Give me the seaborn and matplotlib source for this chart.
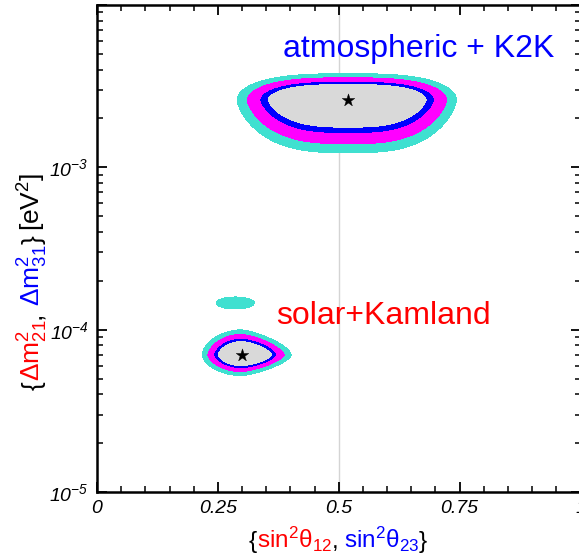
import numpy as np
import matplotlib
matplotlib.use("Agg")
import matplotlib.pyplot as plt
import matplotlib.ticker as mticker
from matplotlib.transforms import IdentityTransform
import seaborn as sns

# best fit points: (sin^2 theta, delta m^2 [eV^2])
best_x = [0.30, 0.52]
best_y = [7.0e-5, 2.6e-3]
region_names = ["solar+Kamland", "atmospheric + K2K"]
region_colors = ["#ff0000", "#0000ff"]
name_x = [0.371, 0.384]
name_y = [1.09e-4, 4.8e-3]

# delta chi^2 levels (2 dof): 90%, 95%, 99%, 3 sigma
cl_levels = [0, 4.61, 5.99, 9.21, 11.83]
cl_colors = ["#d9d9d9", "#0000ff", "#ff00ff", "#40e0d0"]

# widths of the allowed regions
# x widths (left, right), log10(dm2) widths (below, above)
atm_sx = [0.101, 0.098]
atm_px = 3
atm_sy = [0.0626, 0.047]
atm_py = [1.5, 2.0]
sol_sx = [0.024, 0.0295]
sol_sy = [0.030, 0.036]
sol_py = 1.7
sol_taper = 3.0
# small second solar island, only inside 3 sigma
isl_x, isl_y = 0.286, 1.46e-4
isl_chi2min = 10.4
isl_s = [0.033, 0.031]

xticks = [0, 0.25, 0.5, 0.75, 1.0]
xticklabels = ["0", "0.25", "0.5", "0.75", "1"]
yticks = [1e-5, 1e-4, 1e-3, 1e-2]
yticklabels = [r"$\mathsf{10^{-5}}$", r"$\mathsf{10^{-4}}$", r"$\mathsf{10^{-3}}$", ""]

sns.set_theme(style="ticks")
plt.rcParams["font.family"] = ["Liberation Sans", "DejaVu Sans"]
plt.rcParams["mathtext.fontset"] = "custom"
plt.rcParams["mathtext.rm"] = "Liberation Sans"
plt.rcParams["mathtext.it"] = "Liberation Sans:italic"
plt.rcParams["mathtext.bf"] = "Liberation Sans:bold"
# italic digits for the y tick labels
plt.rcParams["mathtext.sf"] = "Liberation Sans:italic"
plt.rcParams["mathtext.default"] = "it"


def side(d, lo, hi):
    return np.where(d < 0, lo, hi)


xs = np.linspace(0, 1, 801)
ly = np.linspace(-5, -2, 801)
X, LY = np.meshgrid(xs, ly)

dx = X - best_x[1]
dy = LY - np.log10(best_y[1])
chi_atm = (np.abs(dx) / side(dx, *atm_sx)) ** atm_px + \
    (np.abs(dy) / side(dy, *atm_sy)) ** side(dy, *atm_py)

dx = X - best_x[0]
dy = LY - np.log10(best_y[0])
taper = np.where(dx > 0, np.clip(1 - sol_taper * dx, 0.05, None), 1.0)
chi_sol = (dx / side(dx, *sol_sx)) ** 2 + \
    (np.abs(dy) / (side(dy, *sol_sy) * taper)) ** sol_py

dx = X - isl_x
dy = LY - np.log10(isl_y)
chi_isl = isl_chi2min + (dx / isl_s[0]) ** 2 + (dy / isl_s[1]) ** 2

chi2 = np.minimum(np.minimum(chi_atm, chi_sol), chi_isl)

fig = plt.figure(figsize=(5.79, 5.59), dpi=100)
ax = fig.add_axes([97 / 579, 67 / 559, 483.5 / 579, 487 / 559])

ax.axvline(0.5, color="#d4d4d4", lw=1, zorder=0)
ax.contourf(X, 10 ** LY, chi2, levels=cl_levels, colors=cl_colors, zorder=1)
sns.scatterplot(x=best_x, y=best_y, marker="*", s=90, color="black",
                edgecolor="black", linewidth=0.3, ax=ax, zorder=3, legend=False)

for nx, ny, name, c in zip(name_x, name_y, region_names, region_colors):
    ax.text(nx, ny, name, color=c, fontsize=23, va="baseline", ha="left", zorder=4)

ax.set_yscale("log")
ax.set_xlim(0, 1)
ax.set_ylim(1e-5, 1e-2)
ax.set_xticks(xticks)
ax.set_xticklabels(xticklabels)
ax.set_yticks(yticks)
ax.set_yticklabels(yticklabels)
ax.yaxis.set_minor_locator(mticker.LogLocator(base=10, subs=np.arange(2, 10)))
ax.yaxis.set_minor_formatter(mticker.NullFormatter())
ax.xaxis.set_minor_locator(mticker.MultipleLocator(0.05))
for lab in ax.get_xticklabels():
    lab.set_fontstyle("italic")
ax.tick_params(which="both", direction="in", top=True, right=True,
               colors="black")
ax.tick_params(axis="x", labelsize=14)
ax.tick_params(axis="y", labelsize=14)
ax.tick_params(which="major", length=7, width=1.3, pad=6)
ax.tick_params(which="minor", length=4, width=1.1)
for sp in ax.spines.values():
    sp.set_linewidth(1.8)
    sp.set_color("black")
ax.set_xlabel("")
ax.set_ylabel("")


def colored_label(pieces, cx, cy, rotation, fontsize):
    texts = []
    for s, c, gap in pieces:
        t = fig.text(0, 0, s, color=c, fontsize=fontsize, rotation=rotation,
                     rotation_mode="anchor", ha="left", va="baseline",
                     transform=IdentityTransform())
        texts.append((t, gap))
    fig.canvas.draw()
    r = fig.canvas.get_renderer()
    sizes = []
    for t, gap in texts:
        bb = t.get_window_extent(r)
        sizes.append((bb.height if rotation == 90 else bb.width) + gap)
    pos = -sum(sizes) / 2
    for (t, gap), sz in zip(texts, sizes):
        if rotation == 90:
            t.set_position((cx, cy + pos))
        else:
            t.set_position((cx + pos, cy))
        pos += sz


H = 559
colored_label([("{", "black", 0), (r"$\mathrm{sin^2θ_{12}}$", "#ff0000", 0),
               (",", "black", 5), (r"$\mathrm{sin^2θ_{23}}$", "#0000ff", 0),
               ("}", "black", 0)], 338, H - 548, 0, 17.5)
colored_label([("{", "black", 0), (r"$\mathrm{Δm^2_{21}}$", "#ff0000", 0),
               (",", "black", 6), (r"$\mathrm{Δm^2_{31}}$", "#0000ff", 0),
               ("}", "black", 5), (r"$\mathrm{[eV^2]}$", "black", 0)],
              41, H - 281, 90, 19)

fig.savefig("out.png", dpi=100)
